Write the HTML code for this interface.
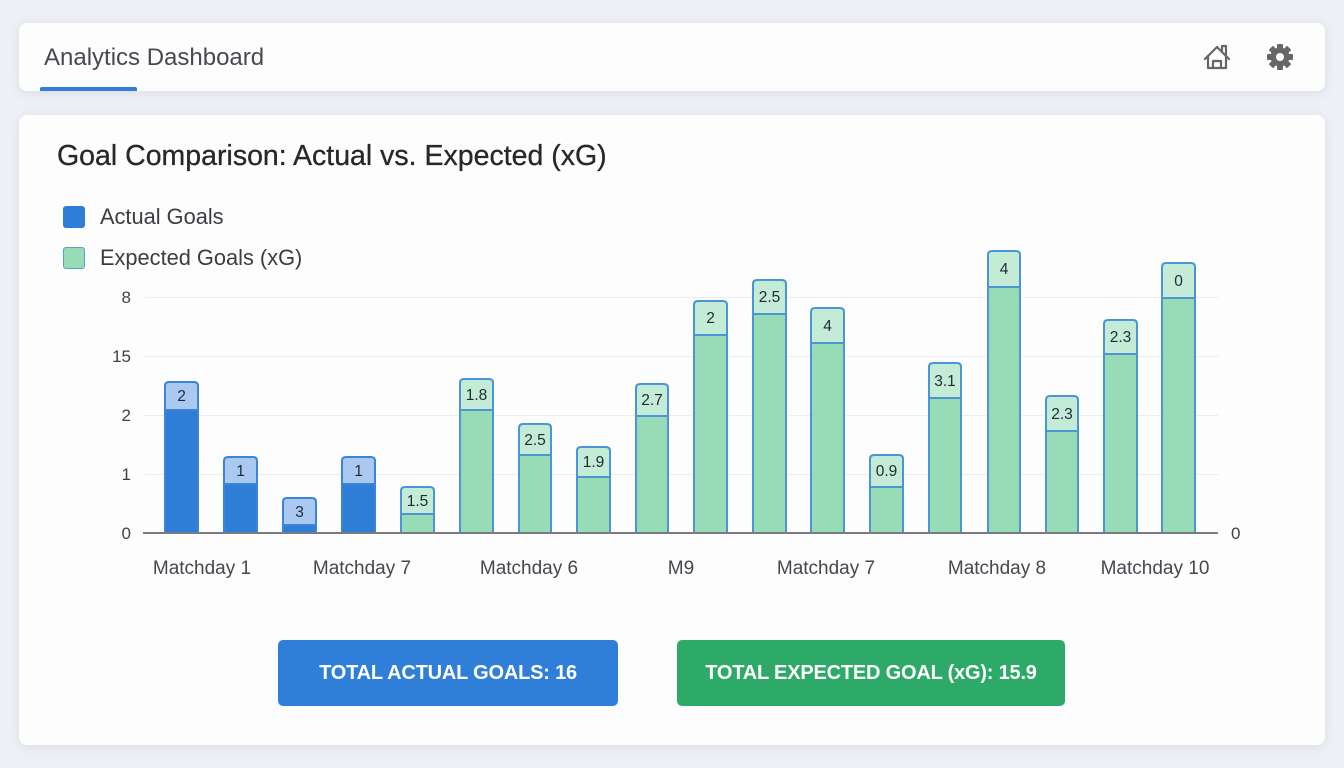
<!DOCTYPE html>
<html><head><meta charset="utf-8"><style>
html,body{margin:0;padding:0;}
body{width:1344px;height:768px;background:#edf0f5;position:relative;overflow:hidden;font-family:"Liberation Sans",sans-serif;}
.card{position:absolute;background:#fdfdfe;border-radius:8px;box-shadow:0 2px 10px rgba(60,70,100,0.10);}
.btn{position:absolute;border-radius:5px;color:#fff;font-weight:bold;font-size:20px;display:flex;align-items:center;justify-content:center;letter-spacing:-0.2px;}
</style></head><body>
<div class="card" style="left:19px;top:23px;width:1306px;height:68px;"></div>
<div class="card" style="left:19px;top:115px;width:1306px;height:630px;"></div>
<div style="position:absolute;left:44px;top:44px;font-size:24px;color:#464a50;">Analytics Dashboard</div>
<div style="position:absolute;left:40px;top:87px;width:97px;height:4px;background:#2f7fd8;border-radius:2px 2px 0 0;"></div>
<div style="position:absolute;left:57px;top:140px;font-size:28.5px;color:#26282c;-webkit-text-stroke:0.3px #26282c;">Goal Comparison: Actual vs. Expected (xG)</div>
<div style="position:absolute;left:63px;top:206px;width:22px;height:22px;background:#2e7ed8;border-radius:3px;"></div>
<div style="position:absolute;left:63px;top:247px;width:20px;height:20px;background:#98dcb7;border:1px solid #5a9ed6;border-radius:3px;"></div>
<div style="position:absolute;left:100px;top:204px;font-size:21.8px;color:#3a3d42;">Actual Goals</div>
<div style="position:absolute;left:100px;top:245px;font-size:21.8px;color:#3a3d42;">Expected Goals (xG)</div>
<div class="btn" style="left:278px;top:640px;width:340px;height:66px;background:#2f7fd8;">TOTAL ACTUAL GOALS: 16</div>
<div class="btn" style="left:677px;top:640px;width:388px;height:66px;background:#2eaa68;">TOTAL EXPECTED GOAL (xG): 15.9</div>
<svg width="1344" height="768" style="position:absolute;left:0;top:0;" xmlns="http://www.w3.org/2000/svg">
<g fill="none" stroke="#666" stroke-width="2.2" stroke-linejoin="round" stroke-linecap="round">
<path d="M1205 59 L1217 47 L1229 59"/>
<path d="M1208 56 V68 H1226 V56"/>
<path d="M1213 68 V61 H1221 V68"/>
<path d="M1222 51 V46 H1226 V55"/>
</g>
<g fill="#666" transform="translate(1280,57)">
<circle r="9.5"/>
<rect x="-3" y="-13" width="6" height="26" rx="1"/>
<rect x="-3" y="-13" width="6" height="26" rx="1" transform="rotate(45)"/>
<rect x="-3" y="-13" width="6" height="26" rx="1" transform="rotate(90)"/>
<rect x="-3" y="-13" width="6" height="26" rx="1" transform="rotate(135)"/>
<circle r="4" fill="#fdfdfe"/>
</g>
<g stroke="#ececee" stroke-width="1">
<line x1="145" y1="297.5" x2="1218" y2="297.5"/>
<line x1="145" y1="356.5" x2="1218" y2="356.5"/>
<line x1="145" y1="415.5" x2="1218" y2="415.5"/>
<line x1="145" y1="474.5" x2="1218" y2="474.5"/>
</g>
<g font-size="17" fill="#3e4146" text-anchor="end">
<text x="131" y="303">8</text>
<text x="131" y="362">15</text>
<text x="131" y="421">2</text>
<text x="131" y="480">1</text>
<text x="131" y="539">0</text>
</g>
<text x="1231" y="539" font-size="17" fill="#3e4146">0</text>
<g stroke="#3c84d6" stroke-width="2">
<path d="M165 533V386Q165 382 169 382H194Q198 382 198 386V533Z" fill="#a9c9f1"/>
<rect x="165" y="410" width="33" height="123" fill="#2e7ed8"/>
<path d="M224 533V461Q224 457 228 457H253Q257 457 257 461V533Z" fill="#a9c9f1"/>
<rect x="224" y="484" width="33" height="49" fill="#2e7ed8"/>
<path d="M283 533V502Q283 498 287 498H312Q316 498 316 502V533Z" fill="#a9c9f1"/>
<rect x="283" y="525" width="33" height="8" fill="#2e7ed8"/>
<path d="M342 533V461Q342 457 346 457H371Q375 457 375 461V533Z" fill="#a9c9f1"/>
<rect x="342" y="484" width="33" height="49" fill="#2e7ed8"/>
</g>
<g stroke="#4b95d6" stroke-width="2">
<path d="M401 533V491Q401 487 405 487H430Q434 487 434 491V533Z" fill="#c3ebd5"/>
<rect x="401" y="514" width="33" height="19" fill="#98dcb7"/>
<path d="M460 533V383Q460 379 464 379H489Q493 379 493 383V533Z" fill="#c3ebd5"/>
<rect x="460" y="410" width="33" height="123" fill="#98dcb7"/>
<path d="M519 533V428Q519 424 523 424H547Q551 424 551 428V533Z" fill="#c3ebd5"/>
<rect x="519" y="455" width="32" height="78" fill="#98dcb7"/>
<path d="M577 533V451Q577 447 581 447H606Q610 447 610 451V533Z" fill="#c3ebd5"/>
<rect x="577" y="477" width="33" height="56" fill="#98dcb7"/>
<path d="M636 533V388Q636 384 640 384H664Q668 384 668 388V533Z" fill="#c3ebd5"/>
<rect x="636" y="416" width="32" height="117" fill="#98dcb7"/>
<path d="M694 533V305Q694 301 698 301H723Q727 301 727 305V533Z" fill="#c3ebd5"/>
<rect x="694" y="335" width="33" height="198" fill="#98dcb7"/>
<path d="M753 533V284Q753 280 757 280H782Q786 280 786 284V533Z" fill="#c3ebd5"/>
<rect x="753" y="314" width="33" height="219" fill="#98dcb7"/>
<path d="M811 533V312Q811 308 815 308H840Q844 308 844 312V533Z" fill="#c3ebd5"/>
<rect x="811" y="343" width="33" height="190" fill="#98dcb7"/>
<path d="M870 533V459Q870 455 874 455H899Q903 455 903 459V533Z" fill="#c3ebd5"/>
<rect x="870" y="487" width="33" height="46" fill="#98dcb7"/>
<path d="M929 533V367Q929 363 933 363H957Q961 363 961 367V533Z" fill="#c3ebd5"/>
<rect x="929" y="398" width="32" height="135" fill="#98dcb7"/>
<path d="M988 533V255Q988 251 992 251H1016Q1020 251 1020 255V533Z" fill="#c3ebd5"/>
<rect x="988" y="287" width="32" height="246" fill="#98dcb7"/>
<path d="M1046 533V400Q1046 396 1050 396H1074Q1078 396 1078 400V533Z" fill="#c3ebd5"/>
<rect x="1046" y="431" width="32" height="102" fill="#98dcb7"/>
<path d="M1104 533V324Q1104 320 1108 320H1133Q1137 320 1137 324V533Z" fill="#c3ebd5"/>
<rect x="1104" y="354" width="33" height="179" fill="#98dcb7"/>
<path d="M1162 533V267Q1162 263 1166 263H1191Q1195 263 1195 267V533Z" fill="#c3ebd5"/>
<rect x="1162" y="298" width="33" height="235" fill="#98dcb7"/>
</g>
<line x1="143" y1="533" x2="1218" y2="533" stroke="#7a7c80" stroke-width="2"/>
<g font-size="15.5" fill="#1f2a36" text-anchor="middle">
<text x="181.5" y="401">2</text>
<text x="240.5" y="476">1</text>
<text x="299.5" y="517">3</text>
<text x="358.5" y="476">1</text>
<text x="417.5" y="506">1.5</text>
<text x="476.5" y="400">1.8</text>
<text x="535" y="445">2.5</text>
<text x="593.5" y="467">1.9</text>
<text x="652" y="405">2.7</text>
<text x="710.5" y="323">2</text>
<text x="769.5" y="302">2.5</text>
<text x="827.5" y="331">4</text>
<text x="886.5" y="476">0.9</text>
<text x="945" y="386">3.1</text>
<text x="1004" y="274">4</text>
<text x="1062" y="419">2.3</text>
<text x="1120.5" y="342">2.3</text>
<text x="1178.5" y="286">0</text>
</g>
<g font-size="19" fill="#45484d" text-anchor="middle">
<text x="202" y="574">Matchday 1</text>
<text x="362" y="574">Matchday 7</text>
<text x="529" y="574">Matchday 6</text>
<text x="681" y="574">M9</text>
<text x="826" y="574">Matchday 7</text>
<text x="997" y="574">Matchday 8</text>
<text x="1155" y="574">Matchday 10</text>
</g>
</svg>
</body></html>
